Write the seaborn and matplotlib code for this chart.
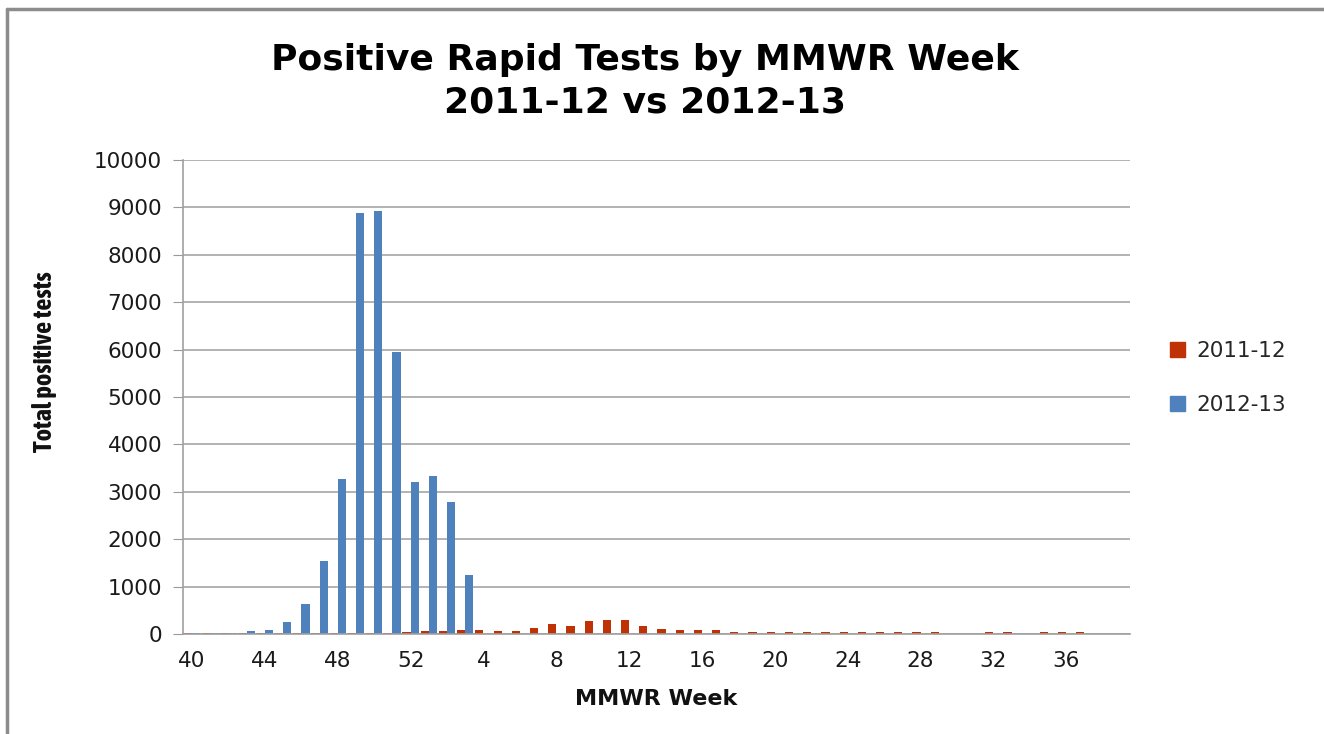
import numpy as np
import pandas as pd
import matplotlib
matplotlib.use("Agg")
import matplotlib.pyplot as plt
from matplotlib import font_manager
from matplotlib.lines import Line2D
import seaborn as sns

# MMWR weeks 40-52 then 1-39
weeks = [str(w) for w in range(40, 53)] + [str(w) for w in range(1, 40)]

season_2011 = [25, 25, 25, 25, 25, 25, 25, 25, 30, 30, 30, 30, 35,
               60, 70, 85, 85, 63, 63, 127, 204, 176, 275, 296, 296, 176,
               106, 85, 85, 90, 35, 35, 35, 35, 35, 35, 35, 35, 35, 35,
               35, 35, 0, 0, 35, 35, 0, 35, 35, 35, 0, 0]
season_2012 = [25, 25, 25, 63, 85, 254, 640, 1540, 3275, 8890, 8915, 5944, 3204,
               3331, 2775, 1254] + [np.nan] * 36

seasons = ["2011-12", "2012-13"]
colors = ["#BE3206", "#4F81BD"]

df = pd.DataFrame({
    "week": weeks * 2,
    "season": [seasons[0]] * len(weeks) + [seasons[1]] * len(weeks),
    "tests": season_2011 + season_2012,
}).dropna()

sns.set_style("white")
plt.rcParams["font.family"] = ["DejaVu Sans"]

# narrow bold face for the y label, if one is installed
narrow = None
for f in font_manager.fontManager.ttflist:
    if ("Narrow" in f.name or "Condensed" in f.name) and f.weight in (700, "bold") \
            and f.style == "normal":
        narrow = f.fname
        break
if narrow:
    ylab_font = font_manager.FontProperties(fname=narrow, size=19)
else:
    ylab_font = font_manager.FontProperties(family="DejaVu Sans", weight="bold", size=14)

fig = plt.figure(figsize=(13.24, 7.34), dpi=100)
ax = fig.add_axes([183 / 1324, 100 / 734, (1130 - 183) / 1324, (634 - 160) / 734])

sns.barplot(data=df, x="week", y="tests", hue="season", order=weeks,
            hue_order=seasons, palette=colors, width=0.9, errorbar=None,
            saturation=1, linewidth=0, ax=ax)

ax.set_ylim(0, 10000)
ax.set_yticks(range(0, 10001, 1000))
ax.set_xlim(-0.5, len(weeks) - 0.5)
ax.set_xticks(range(0, len(weeks), 4))
ax.set_xticklabels(weeks[::4])
ax.tick_params(axis="x", length=0, labelsize=15.5, pad=12, labelcolor="#1A1A1A")
ax.tick_params(axis="y", length=7, direction="out", left=True, labelsize=15.5,
               pad=8, labelcolor="#1A1A1A", color="#999999")
ax.yaxis.grid(True, color="#A6A6A6", linewidth=1.2)
ax.set_axisbelow(True)
for side in ["top", "right"]:
    ax.spines[side].set_visible(False)
for side in ["left", "bottom"]:
    ax.spines[side].set_color("#A0A0A0")
    ax.spines[side].set_linewidth(1.2)

ax.set_xlabel("MMWR Week", fontsize=16, fontweight="bold", labelpad=13, color="#111111")
ax.set_ylabel("Total positive tests", fontproperties=ylab_font, color="#111111")
ax.yaxis.set_label_coords(-0.133, 0.574)

fig.text(0.487, 0.889, "Positive Rapid Tests by MMWR Week\n2011-12 vs 2012-13",
         ha="center", va="center", fontsize=26, fontweight="bold",
         linespacing=1.3, color="black")

handles = [plt.Rectangle((0, 0), 1, 1, color=c) for c in colors]
ax.legend(handles, seasons, loc="center left", bbox_to_anchor=(1.022, 0.54),
          frameon=False, fontsize=15.5, handlelength=0.7, handleheight=0.7,
          labelspacing=1.6, handletextpad=0.5)

# outer chart frame
fig.add_artist(Line2D([7 / 1324, 7 / 1324], [0, 1 - 9 / 734], color="#8C8C8C", lw=2.5))
fig.add_artist(Line2D([7 / 1324, 1], [1 - 9 / 734, 1 - 9 / 734], color="#8C8C8C", lw=2.5))

fig.savefig("out.png", dpi=100)
